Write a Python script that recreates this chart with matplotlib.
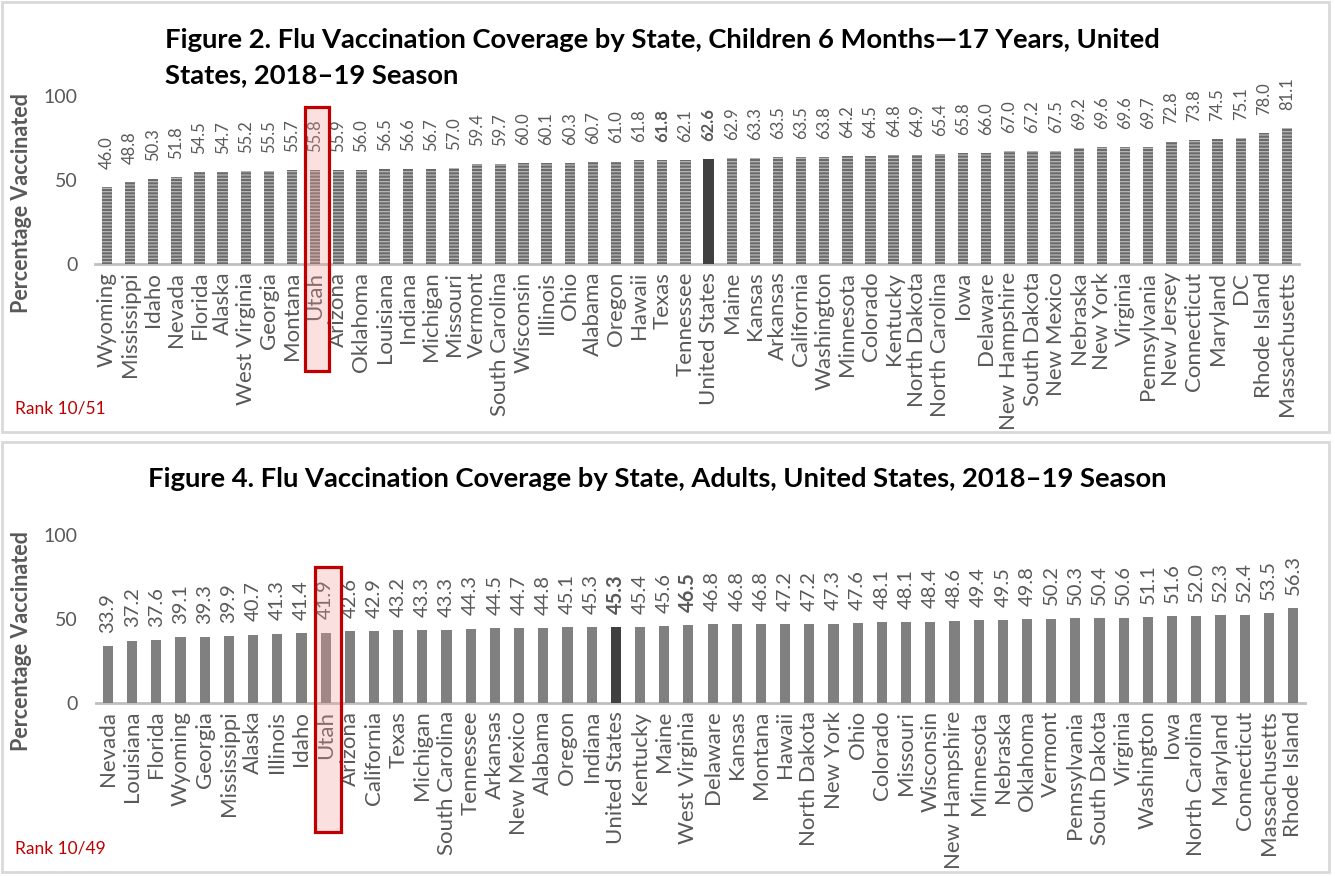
import matplotlib
matplotlib.use('Agg')
import matplotlib.pyplot as plt
from matplotlib.patches import Rectangle
import matplotlib.transforms as mtransforms

plt.rcParams['font.family'] = ['Lato', 'DejaVu Sans']
plt.rcParams['hatch.linewidth'] = 0.9

# ---------------- data ----------------
child_states = ["Wyoming", "Mississippi", "Idaho", "Nevada", "Florida", "Alaska",
                "West Virginia", "Georgia", "Montana", "Utah", "Arizona", "Oklahoma",
                "Louisiana", "Indiana", "Michigan", "Missouri", "Vermont",
                "South Carolina", "Wisconsin", "Illinois", "Ohio", "Alabama",
                "Oregon", "Hawaii", "Texas", "Tennessee", "United States", "Maine",
                "Kansas", "Arkansas", "California", "Washington", "Minnesota",
                "Colorado", "Kentucky", "North Dakota", "North Carolina", "Iowa",
                "Delaware", "New Hampshire", "South Dakota", "New Mexico", "Nebraska",
                "New York", "Virginia", "Pennsylvania", "New Jersey", "Connecticut",
                "Maryland", "DC", "Rhode Island", "Massachusetts"]
child_values = [46.0, 48.8, 50.3, 51.8, 54.5, 54.7, 55.2, 55.5, 55.7, 55.8, 55.9, 56.0,
                56.5, 56.6, 56.7, 57.0, 59.4, 59.7, 60.0, 60.1, 60.3, 60.7, 61.0, 61.8,
                61.8, 62.1, 62.6, 62.9, 63.3, 63.5, 63.5, 63.8, 64.2, 64.5, 64.8, 64.9,
                65.4, 65.8, 66.0, 67.0, 67.2, 67.5, 69.2, 69.6, 69.6, 69.7, 72.8, 73.8,
                74.5, 75.1, 78.0, 81.1]
child_bold_labels = ["Texas", "United States"]

adult_states = ["Nevada", "Louisiana", "Florida", "Wyoming", "Georgia", "Mississippi",
                "Alaska", "Illinois", "Idaho", "Utah", "Arizona", "California", "Texas",
                "Michigan", "South Carolina", "Tennessee", "Arkansas", "New Mexico",
                "Alabama", "Oregon", "Indiana", "United States", "Kentucky", "Maine",
                "West Virginia", "Delaware", "Kansas", "Montana", "Hawaii",
                "North Dakota", "New York", "Ohio", "Colorado", "Missouri", "Wisconsin",
                "New Hampshire", "Minnesota", "Nebraska", "Oklahoma", "Vermont",
                "Pennsylvania", "South Dakota", "Virginia", "Washington", "Iowa",
                "North Carolina", "Maryland", "Connecticut", "Massachusetts",
                "Rhode Island"]
adult_values = [33.9, 37.2, 37.6, 39.1, 39.3, 39.9, 40.7, 41.3, 41.4, 41.9, 42.6, 42.9,
                43.2, 43.3, 43.3, 44.3, 44.5, 44.7, 44.8, 45.1, 45.3, 45.3, 45.4, 45.6,
                46.5, 46.8, 46.8, 46.8, 47.2, 47.2, 47.3, 47.6, 48.1, 48.1, 48.4, 48.6,
                49.4, 49.5, 49.8, 50.2, 50.3, 50.4, 50.6, 51.1, 51.6, 52.0, 52.3, 52.4,
                53.5, 56.3]
adult_bold_labels = ["United States", "West Virginia"]

title_child = ["Figure 2. Flu Vaccination Coverage by State, Children 6 Months\u201417 Years, United",
               "States, 2018\u201319 Season"]
title_adult = "Figure 4. Flu Vaccination Coverage by State, Adults, United States, 2018\u201319 Season"
rank_child = "Rank 10/51"
rank_adult = "Rank 10/49"
highlight = "Utah"
yticks = [0, 50, 100]

# ---------------- layout ----------------
W, H = 1335, 876
fig = plt.figure(figsize=(W / 100, H / 100), dpi=100)


def fx(px):
    return px / W


def fy(py):
    return 1 - py / H


GRAY_TXT = '#595959'
RED = '#c00000'

# panel borders
for top, bottom in [(2, 432), (442, 872)]:
    fig.patches.append(Rectangle((fx(2), fy(bottom)), fx(1327), (bottom - top) / H,
                                 transform=fig.transFigure, fill=False,
                                 edgecolor='#d9d9d9', linewidth=2, zorder=0))


def draw(ax, states, values, bold_labels, hatched, width, value_fs, value_off,
         box_y, box_w):
    n = len(states)
    x = list(range(n))
    colors = ['#404040' if s == 'United States' else ('#6a6a6a' if hatched else '#808080')
              for s in states]
    bars = ax.bar(x, values, width=width, color=colors, linewidth=0,
                  edgecolor='#b8b8b8' if hatched else 'none',
                  hatch='-----' if hatched else None, zorder=2)
    for b, s in zip(bars, states):
        if s == 'United States':
            b.set_hatch(None)
    ax.set_xlim(-0.5, n - 0.5)
    ax.set_ylim(0, 100)
    ax.set_yticks(yticks)
    for sp in ['top', 'right', 'left']:
        ax.spines[sp].set_visible(False)
    ax.spines['bottom'].set_color('#bfbfbf')
    ax.spines['bottom'].set_linewidth(2)
    ax.spines['bottom'].set_zorder(1)
    ax.set_xticks(x)
    ax.set_xticklabels(states, rotation=90)
    ax.tick_params(axis='x', length=0, pad=5.5, labelsize=16, labelcolor=GRAY_TXT)
    ax.tick_params(axis='y', length=0, pad=13, labelsize=14, labelcolor=GRAY_TXT)
    ax.set_ylabel('Percentage Vaccinated', fontweight='bold', color=GRAY_TXT, fontsize=15.5)
    for xi, v, s in zip(x, values, states):
        ax.annotate(f'{v:.1f}', (xi, v), xytext=(0, value_off), textcoords='offset points',
                    rotation=90, ha='center', va='bottom', fontsize=value_fs,
                    color=GRAY_TXT,
                    fontweight='bold' if s in bold_labels else 'normal')
    idx = states.index(highlight)
    trans = mtransforms.blended_transform_factory(ax.transData, ax.transAxes)
    ax.add_patch(Rectangle((idx - box_w / 2 + 0.08, box_y[0]), box_w, box_y[1] - box_y[0],
                           transform=trans, clip_on=False,
                           facecolor=(0.95, 0.6, 0.6, 0.3), edgecolor=RED,
                           linewidth=2.3, zorder=10))


ax1 = fig.add_axes([fx(95.4), fy(264), fx(1203.2), 168 / H])
draw(ax1, child_states, child_values, child_bold_labels, True, 0.45, 12, 13,
     (-0.637, 0.934), 1.04)
ax1.yaxis.set_label_coords(-0.0525, 0.365)

ax2 = fig.add_axes([fx(95.9), fy(703), fx(1209.2), 168 / H])
draw(ax2, adult_states, adult_values, adult_bold_labels, False, 0.42, 14.5, 9.5,
     (-0.768, 0.81), 1.07)
ax2.yaxis.set_label_coords(-0.0525, 0.367)

# titles
TFS = 19.7
fig.text(fx(165), fy(40), title_child[0], ha='left', va='center', fontsize=TFS,
         fontweight='bold', color='black')
fig.text(fx(165), fy(75), title_child[1], ha='left', va='center', fontsize=TFS,
         fontweight='bold', color='black')
fig.text(fx(657), fy(479), title_adult, ha='center', va='center', fontsize=TFS,
         fontweight='bold', color='black')

# rank notes
fig.text(fx(15), fy(408), rank_child, ha='left', va='center', fontsize=12.5, color=RED)
fig.text(fx(15), fy(848), rank_adult, ha='left', va='center', fontsize=12.5, color=RED)

fig.savefig('out.png', dpi=100)
